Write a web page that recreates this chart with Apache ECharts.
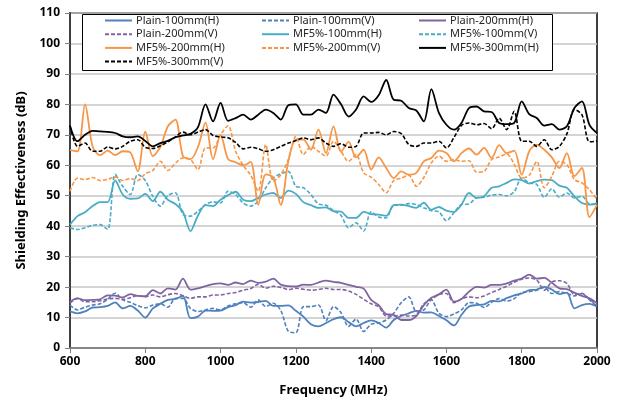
<!DOCTYPE html>
<html>
<head>
<meta charset="utf-8">
<script src="https://cdn.jsdelivr.net/npm/echarts@6/dist/echarts.min.js"></script>
<style>
  html, body { margin: 0; padding: 0; background: #fff; }
  #chart { width: 620px; height: 405px; }
</style>
</head>
<body>
<div id="chart"></div>
<script>
// frequency grid (MHz), one value every 20 MHz
const freqs = [
  600, 620, 640, 660, 680, 700, 720, 740, 760, 780,
  800, 820, 840, 860, 880, 900, 920, 940, 960, 980,
  1000, 1020, 1040, 1060, 1080, 1100, 1120, 1140, 1160, 1180,
  1200, 1220, 1240, 1260, 1280, 1300, 1320, 1340, 1360, 1380,
  1400, 1420, 1440, 1460, 1480, 1500, 1520, 1540, 1560, 1580,
  1600, 1620, 1640, 1660, 1680, 1700, 1720, 1740, 1760, 1780,
  1800, 1820, 1840, 1860, 1880, 1900, 1920, 1940, 1960, 1980,
  2000
];

// shielding effectiveness (dB)
const plain100H = [
  12, 11.4, 12, 13.3, 13.4, 13.8, 15, 13, 13.8, 12.3,
  10, 13, 14.5, 15.8, 16.1, 17.1, 9.8, 10.3, 12.3, 12.2,
  12.3, 13.4, 14.1, 15.2, 14.9, 15.1, 15.5, 13.8, 13.8, 14,
  12.2, 10.3, 7.8, 7.1, 8.2, 9.5, 10.1, 8.5, 7.1, 8.2,
  9.1, 8.2, 6.7, 9.2, 10.5, 11.4, 12.2, 11.6, 11.7, 10.5,
  9.1, 7.4, 10.9, 13.6, 14.1, 14.3, 15.5, 15.3, 16.4, 17.3,
  17.9, 19, 19.2, 20.1, 19.2, 17.7, 18.2, 13, 14.1, 14.5,
  13.6
];
const plain100V = [
  14.1, 12.5, 13.4, 14.1, 14.5, 16, 18, 15.8, 15, 13.9,
  13.2, 14.1, 14.5, 13.4, 16.3, 16.3, 13, 12, 12.5, 13,
  12.5, 13.8, 14.5, 14.9, 13.4, 15.8, 13.6, 14.7, 12.3, 5.5,
  5, 13.6, 13.6, 14.1, 9, 13.6, 11.6, 7.1, 9.5, 5.4,
  7.8, 8.2, 9.2, 11.4, 14.9, 16.8, 12, 12.5, 15.8, 11.4,
  10.3, 11.2, 12.5, 14.9, 14.7, 13.3, 15, 16.2, 15.4, 16.2,
  18.2, 18.5, 19, 19.9, 17.9, 18.5, 17.9, 17.1, 17.9, 15.8,
  13.6
];
const plain200H = [
  15.2, 16.3, 15.7, 15.8, 16, 17.3, 17.2, 16.6, 17.7, 17.1,
  17, 19, 17.9, 19.6, 19.2, 22.8, 19.2, 19.6, 20.3, 21,
  21.2, 20.7, 21.5, 21, 22.1, 21.4, 21.8, 22.8, 20.8, 20.3,
  20.2, 20.8, 20.7, 21.5, 22.1, 21.7, 21.4, 20.7, 20.1, 19.5,
  15.8, 14.1, 11.1, 10.9, 9.2, 9.2, 10.5, 14.1, 16.5, 17.6,
  19.2, 15.2, 16.1, 18.5, 20.1, 19.8, 20.7, 20.7, 21.2, 22.1,
  22.8, 24.1, 22.8, 23, 21.4, 19.6, 19.3, 18.2, 17.1, 16.3,
  14.7
];
const plain200V = [
  14.7, 16.3, 15.2, 15.2, 15.5, 16.1, 16.3, 16, 16.5, 17.2,
  16.8, 17.4, 16.8, 17.5, 17.9, 17.2, 16.3, 16.8, 16.8, 17.4,
  17.4, 17.9, 18.2, 19, 19.5, 20.9, 19.6, 20.3, 19.9, 19.2,
  19.6, 19.3, 19, 19.2, 19.6, 19.2, 19.2, 18.7, 17.6, 16,
  14.5, 13.6, 10.5, 10.5, 10.8, 10.5, 10.9, 14.5, 16, 17.6,
  17.9, 14.9, 16.1, 16.8, 16.5, 17.1, 18.2, 19.2, 20.3, 21.6,
  22.6, 23, 22.3, 19, 21.7, 22.1, 21.2, 17.6, 17.9, 16,
  14.1
];
const mf100H = [
  40.5, 43.3, 44.6, 46.6, 47.9, 47.9, 55, 50.4, 49, 49.1,
  50.6, 48.2, 51.3, 48.7, 47.3, 44.7, 38.4, 43.5, 46.9, 46.6,
  48.7, 50.2, 51.3, 48.7, 48.2, 49.3, 50.4, 50.9, 49.3, 51.7,
  50.6, 47.9, 46.9, 46, 46.2, 44.9, 44.8, 42.7, 42.7, 44.7,
  44, 43.8, 43.4, 46.9, 47.1, 46.6, 46, 47.7, 45.4, 46.3,
  45.1, 44.7, 47.1, 50.9, 49.3, 49.8, 52.6, 53.1, 54.2, 55.4,
  55.1, 54, 54.8, 55.3, 55.1, 53.3, 52.6, 49.8, 47.6, 47.1,
  47.6
];
const mf100V = [
  39.5, 38.9, 39.5, 40.3, 40.5, 38.9, 57, 53.1, 50.4, 57,
  55, 49.8, 46.6, 50.1, 51, 43.8, 43.3, 44.9, 47.1, 48,
  47.6, 51.5, 50.4, 47.6, 46.6, 48.2, 52.6, 55.8, 57.2, 58,
  53.1, 52.6, 50.4, 47.3, 46.9, 45.1, 43.5, 39.5, 41.1, 38.4,
  44.7, 43, 42.7, 46.9, 46.9, 47.4, 47.1, 46, 45.1, 44.7,
  41.8, 44.4, 47.1, 47.3, 49.3, 49.5, 50.2, 50.4, 50, 51.3,
  55.8, 54.2, 53.7, 49.5, 52.3, 49.5, 50.9, 49.3, 49.8, 47.3,
  47.1
];
const mf200H = [
  65, 64.6, 80, 66.2, 63.3, 64.8, 63.3, 64.6, 64.2, 58,
  71, 63, 66, 72.8, 75, 63, 62, 66, 74, 62,
  70, 62, 61, 60, 61.1, 47, 57, 56, 47, 61.3,
  68.4, 68.4, 65.1, 71.7, 64, 72.8, 64.4, 67.7, 62.6, 65.1,
  58.6, 62.6, 59.1, 55.8, 58, 56.9, 57.5, 61.3, 62.4, 64.8,
  64, 61.3, 64, 65.5, 63.5, 65.7, 62.4, 66.6, 64, 64.8,
  56.9, 64.6, 66.8, 65.1, 62.6, 59.1, 64, 56.4, 59.1, 43,
  47
];
const mf200V = [
  51.5, 55.8, 55.3, 56, 55, 55.4, 56.2, 55, 55.6, 55,
  57.2, 58.3, 61.3, 58.3, 60.7, 62.4, 61.9, 58.6, 65.7, 65.7,
  70, 73, 64.6, 60, 56.7, 51.5, 66.8, 54.8, 56.9, 61.9,
  69.5, 63.5, 66.2, 64.6, 63, 67.9, 64.6, 61.3, 63.5, 57.5,
  56.1, 53.7, 51, 55, 55.8, 56.7, 53.1, 56, 60.8, 63,
  61.3, 61.9, 61.3, 61.5, 57.7, 58, 61.9, 62.7, 63.7, 60.4,
  55.8, 56.7, 61.3, 52.6, 56.4, 61.3, 60.2, 55.3, 54.2, 52,
  48.7
];
const mf300H = [
  73, 67.9, 70, 71.3, 71.1, 71, 70.6, 69.5, 69.2, 69.5,
  68, 66.2, 67.3, 68, 69.2, 69.8, 70.3, 72.5, 80, 74.4,
  80.5, 74.6, 75.5, 76.6, 75, 76.6, 78.3, 77.2, 75, 79.7,
  80, 76.6, 76.6, 78.3, 77.2, 83.2, 80, 76, 78.3, 82.6,
  80.8, 83, 88, 81.5, 81.2, 78.8, 78, 74.4, 85, 77.2,
  73.3, 71.7, 73.9, 78.8, 79.3, 77.7, 77.5, 73.9, 73.5, 73.9,
  81, 76.8, 75.5, 73, 73.5, 71.7, 72.8, 78.8, 81, 73.3,
  70.6
];
const mf300V = [
  73, 66.2, 67.3, 64.6, 64.6, 66, 65.4, 66.2, 67.9, 68.4,
  65.9, 65.5, 66.4, 67.7, 69.3, 70.9, 70, 70.9, 71.7, 69.8,
  69.3, 69, 67.5, 65.4, 65.9, 65.4, 64.6, 65.1, 66.2, 67.3,
  68.1, 69, 68.4, 69, 67.3, 66.2, 67.1, 65.9, 66.2, 70.6,
  70.6, 70.8, 70, 71.1, 70.4, 66.8, 66.2, 67.3, 67.3, 67.9,
  65.7, 69.1, 73.1, 73.9, 73.3, 73.7, 72, 75.5, 71.7, 77.7,
  67.9, 67.9, 66.2, 68.4, 65.1, 66.2, 70.3, 78.3, 76.6, 67.7,
  67.9
];

const seriesNames = [
  'Plain-100mm(H)', 'Plain-100mm(V)', 'Plain-200mm(H)', 'Plain-200mm(V)',
  'MF5%-100mm(H)', 'MF5%-100mm(V)', 'MF5%-200mm(H)', 'MF5%-200mm(V)',
  'MF5%-300mm(H)', 'MF5%-300mm(V)'
];
const seriesValues = [plain100H, plain100V, plain200H, plain200V, mf100H, mf100V, mf200H, mf200V, mf300H, mf300V];
const seriesColors = ['#4F81BD', '#4F81BD', '#8064A2', '#8064A2', '#4BACC6', '#4BACC6', '#F79646', '#F79646', '#000000', '#000000'];
const seriesDashed = [false, true, false, true, false, true, false, true, false, true];

const yTicks = [0, 10, 20, 30, 40, 50, 60, 70, 80, 90, 100, 110];
const xTicks = [600, 800, 1000, 1200, 1400, 1600, 1800, 2000];

const FONT = 'Noto Sans, Open Sans, sans-serif';

const chart = echarts.init(document.getElementById('chart'), null, { renderer: 'canvas' });

// one legend per entry so the three columns line up like the original
const legends = seriesNames.map((name, i) => ({
  data: [name],
  left: 104 + (i % 3) * 157,
  top: 15 + Math.floor(i / 3) * 13.7,
  padding: 0,
  itemGap: 0,
  itemWidth: 27,
  itemHeight: 10,
  selectedMode: false,
  itemStyle: { opacity: 0 },   // hide the default circle marker, keep the line
  textStyle: { fontFamily: FONT, fontSize: 11, color: '#262626', padding: [0, 0, 0, -1] },
}));

const series = seriesNames.map((name, i) => ({
  name,
  type: 'line',
  data: freqs.map((f, k) => [f, seriesValues[i][k]]),
  symbol: 'none',
  smooth: 0.3,
  animation: false,
  itemStyle: { color: seriesColors[i] },
  lineStyle: {
    color: seriesColors[i],
    width: seriesDashed[i] ? 1.6 : 1.8,
    type: seriesDashed[i] ? [4, 2] : 'solid',
  },
}));

chart.setOption({
  backgroundColor: '#fff',
  animation: false,
  textStyle: { fontFamily: FONT },
  grid: {
    left: 70, right: 23, top: 13, bottom: 57,
    show: true, borderColor: '#000', borderWidth: 1.5, backgroundColor: 'transparent',
  },
  legend: legends,
  graphic: [{
    type: 'rect',
    z: 3,
    shape: { x: 82.5, y: 14.5, width: 470, height: 56 },
    style: { fill: '#fff', stroke: '#000', lineWidth: 1 },
  }],
  xAxis: {
    type: 'value',
    min: xTicks[0],
    max: xTicks[xTicks.length - 1],
    interval: xTicks[1] - xTicks[0],
    name: 'Frequency (MHz)',
    nameLocation: 'middle',
    nameGap: 36,
    nameTextStyle: { fontFamily: FONT, fontWeight: 'bold', fontSize: 13, color: '#000' },
    axisLine: { show: true, onZero: false, lineStyle: { color: '#7f7f7f', width: 1.5 } },
    axisTick: { show: true, length: 5, lineStyle: { color: '#7f7f7f' } },
    axisLabel: {
      fontFamily: FONT, fontWeight: 'bold', fontSize: 12, color: '#000', margin: 8,
      formatter: (v) => String(v),
    },
    splitLine: { show: false },
  },
  yAxis: {
    type: 'value',
    min: yTicks[0],
    max: yTicks[yTicks.length - 1],
    interval: yTicks[1] - yTicks[0],
    name: 'Shielding Effectiveness (dB)',
    nameLocation: 'middle',
    nameGap: 42,
    nameTextStyle: { fontFamily: FONT, fontWeight: 'bold', fontSize: 13, color: '#000' },
    axisLine: { show: true, lineStyle: { color: '#404040', width: 2 } },
    axisTick: { show: true, length: 5, lineStyle: { color: '#7f7f7f' } },
    axisLabel: { fontFamily: FONT, fontWeight: 'bold', fontSize: 12, color: '#000', margin: 10 },
    splitLine: { show: true, lineStyle: { color: '#c6c6c6', width: 1.5 } },
  },
  series,
});
</script>
</body>
</html>
